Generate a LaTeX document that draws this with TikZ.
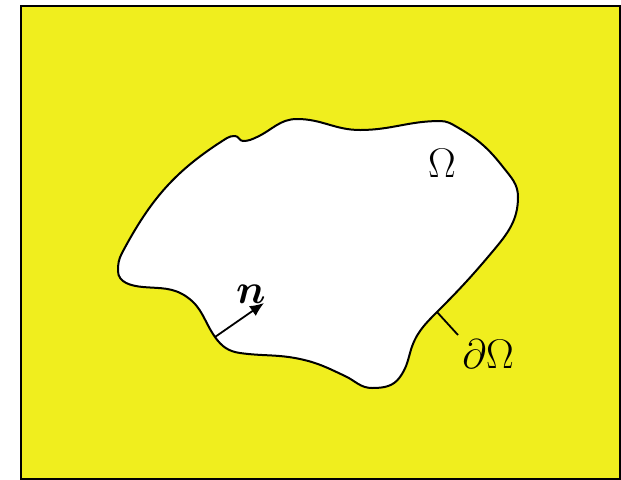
\documentclass[tikz,border=0pt]{standalone}
\usepackage{bm}
\usetikzlibrary{arrows.meta}
\definecolor{bgyellow}{RGB}{240,238,30}
\tikzset{
  frame/.style={draw=black, fill=bgyellow, line width=1.2pt},
  bdry/.style={draw=black, fill=white, line width=1pt},
  lbl/.style={inner sep=0pt, font=\fontsize{20.5}{24}\selectfont},
  normalvec/.style={-{Latex[length=7pt,width=6pt]}, line width=0.9pt},
  tick/.style={line width=0.9pt}
}
\begin{document}
\begin{tikzpicture}[x=0.5pt,y=0.5pt]
\useasboundingbox (0,0) rectangle (621,479);
\begin{scope}
\clip (0,0) rectangle (621,479);
\draw[frame] (21,473) rectangle (620,-0.5);
\end{scope}
% boundary points (y = 479 - image y)
\coordinate (p1) at (118,208);
\coordinate (p2) at (143,192);
\coordinate (p3) at (187,182);
\coordinate (p4) at (215,142);
\coordinate (p5) at (240,126);
\coordinate (p6) at (300,120);
\coordinate (p7) at (345,103);
\coordinate (p8) at (372,91);
\coordinate (p9) at (400,102);
\coordinate (p10) at (410,126);
\coordinate (p11) at (437,167);
\coordinate (p12) at (493,228);
\coordinate (p13) at (518,282);
\coordinate (p14) at (503,312);
\coordinate (p15) at (457,352);
\coordinate (p16) at (440,358);
\coordinate (p17) at (360,349);
\coordinate (p19) at (297,360);
\coordinate (p20) at (257,342);
\coordinate (p21) at (243,338);
\coordinate (p22) at (235,343);
\coordinate (p23) at (227,341);
\coordinate (p26) at (122,226);
\draw[bdry] (p1) to[out=270,in=175] (p2)
  to[out=-5,in=145] (p3)
  to[out=-35,in=125] (p4)
  to[out=-55,in=172] (p5)
  to[out=-8,in=168] (p6)
  to[out=-12,in=155] (p7)
  to[out=-25,in=180] (p8)
  to[out=0,in=235] (p9)
  to[out=55,in=255] (p10)
  to[out=75,in=225] (p11)
  to[out=45,in=230] (p12)
  to[out=50,in=270] (p13)
  to[out=90,in=308] (p14)
  to[out=128,in=330] (p15)
  to[out=150,in=0] (p16)
  to[out=180,in=0] (p17)
  to[out=180,in=0] (p19)
  to[out=180,in=25] (p20)
  to[out=205,in=0] (p21)
  to[out=180,in=0] (p22)
  to[out=180,in=30] (p23)
  to[out=212,in=62] (p26)
  to[out=242,in=90] (p1) -- cycle;
\coordinate (nt) at (264,176);
\coordinate (te) at (458,144);
\draw[normalvec] (p4) -- (nt);
\draw[tick] (p11) -- (te);
\node[lbl] (nlabel) at (251,185) {$\bm{n}$};
\node[lbl] (omega) at (442,316) {$\Omega$};
\node[lbl] (domega) at (488,125) {$\partial\Omega$};
\end{tikzpicture}
\end{document}
